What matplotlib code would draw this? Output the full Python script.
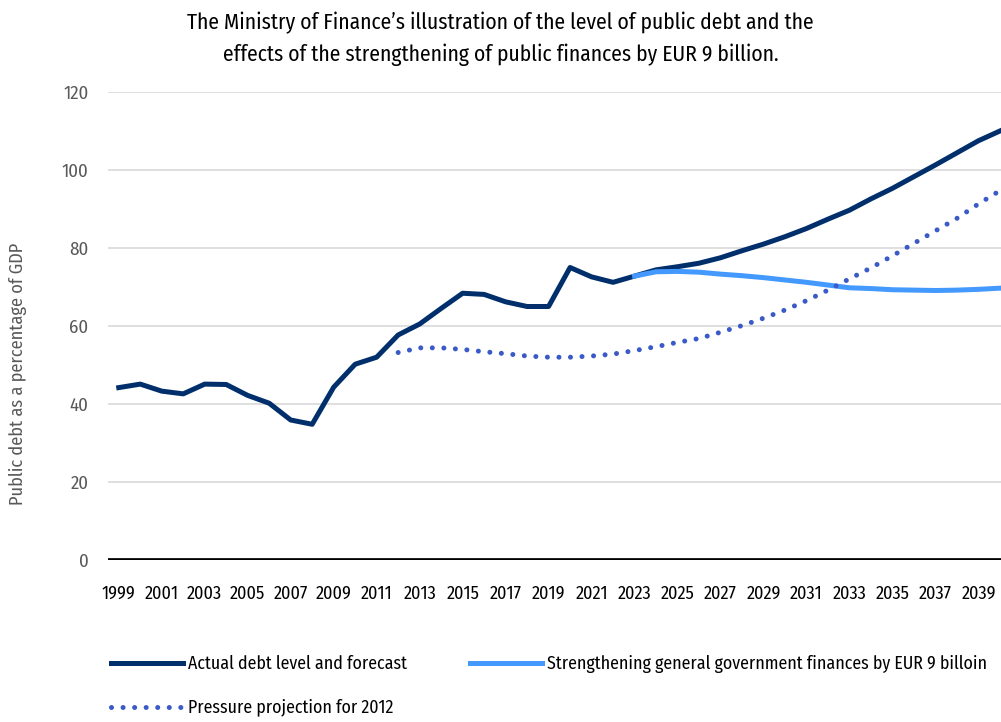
import numpy as np
import matplotlib
matplotlib.use("Agg")
import matplotlib.pyplot as plt

plt.rcParams['font.family'] = ['Fira Sans Condensed', 'DejaVu Sans']

years = list(range(1999, 2041))

actual = [44.2, 45.1, 43.3, 42.6, 45.1, 45.0, 42.2, 40.2, 35.9, 34.8,
          44.3, 50.2, 52.0, 57.7, 60.5, 64.5, 68.4, 68.1, 66.2, 65.0,
          65.0, 75.0, 72.6, 71.2, 72.8, 74.4, 75.2, 76.1, 77.5, 79.3,
          81.0, 82.9, 85.0, 87.4, 89.7, 92.6, 95.3, 98.3, 101.3, 104.4,
          107.5, 110.0]

strength_years = list(range(2023, 2041))
strength = [72.8, 73.9, 74.0, 73.8, 73.3, 72.9, 72.4, 71.8, 71.2, 70.5,
            69.8, 69.6, 69.3, 69.2, 69.1, 69.2, 69.4, 69.7]

pressure_years = list(range(2012, 2041))
pressure = [53.2, 54.4, 54.4, 54.0, 53.4, 52.9, 52.3, 52.0, 52.0, 52.3,
            52.8, 53.7, 54.7, 55.8, 56.8, 58.4, 60.1, 62.0, 64.1, 66.5,
            69.2, 72.1, 74.9, 78.0, 81.2, 84.4, 87.6, 91.3, 94.7]

labels = ["Actual debt level and forecast",
          "Strengthening general government finances by EUR 9 billoin",
          "Pressure projection for 2012"]

title = ("The Ministry of Finance\u2019s illustration of the level of public debt and the\n"
         "effects of the strengthening of public finances by EUR 9 billion.")

fig = plt.figure(figsize=(10.01, 7.22), dpi=100)
ax = fig.add_axes([108/1001, 1-560/722, 1-108/1001, (560-92)/722])

l1, = ax.plot(years, actual, color='#002F6C', lw=3.6, zorder=3)
l2, = ax.plot(strength_years, strength, color='#4499FF', lw=3.6, zorder=4)
l3, = ax.plot(pressure_years, pressure, color='#3A5BC7', lw=3.6,
              linestyle=(0, (0.01, 2.3)), dash_capstyle='round', zorder=5)

ax.set_xlim(1998.5, 2040.05)
ax.set_ylim(0, 120)
ax.set_yticks(range(0, 121, 20))
ax.set_xticks(years[::2])
ax.grid(axis='y', color='#D9D9D9', lw=1.2)
ax.set_axisbelow(True)
for s in ['top', 'right', 'left', 'bottom']:
    ax.spines[s].set_visible(False)
ax.axhline(0, color='black', lw=3.4, zorder=2)
ax.tick_params(length=0)
ax.tick_params(axis='y', labelsize=13.5, labelcolor='#595959', pad=14)
ax.tick_params(axis='x', labelsize=13, labelcolor='black', pad=18)

fig.text(0.5, 1-39/722, title, ha='center', va='center', fontsize=15.5,
         linespacing=1.55)
fig.text(18/1001, 1-374/722, "Public debt as a percentage of GDP", rotation=90,
         ha='center', va='center', fontsize=13.2, color='#595959')

fig.legend([l1, l3, l2], [labels[0], labels[2], labels[1]], ncol=2,
           loc='upper left', bbox_to_anchor=(104/1001, 1-648/722),
           frameon=False, fontsize=12.8, handlelength=4.05, handletextpad=0.3,
           columnspacing=3.5, labelspacing=1.45, borderaxespad=0)

fig.savefig("out.png", dpi=100)
